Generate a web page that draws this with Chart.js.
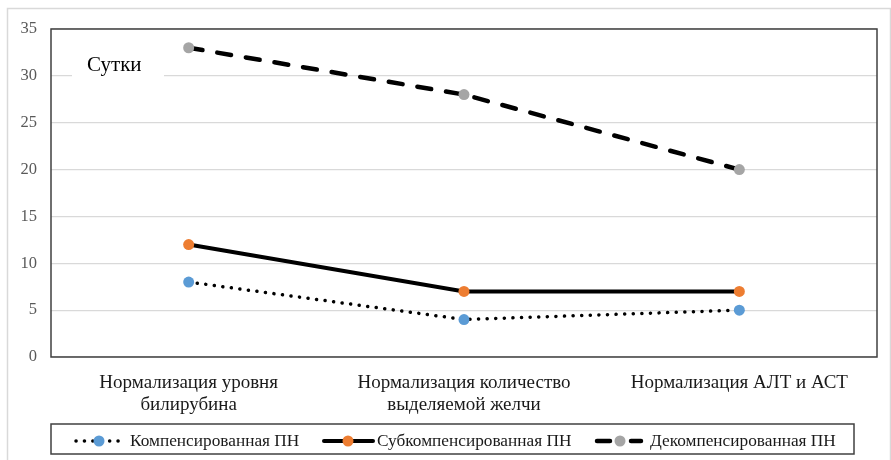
<!DOCTYPE html>
<html>
<head>
<meta charset="utf-8">
<script src="https://cdn.jsdelivr.net/npm/chart.js@4/dist/chart.umd.min.js"></script>
<style>
  html, body { margin: 0; padding: 0; background: #fff; }
  #wrap { width: 891px; height: 460px; }
</style>
</head>
<body>
<div id="wrap"><canvas id="grafico" width="891" height="460"></canvas></div>
<script>
const categorie = [
  ['Нормализация уровня', 'билирубина'],
  ['Нормализация количество', 'выделяемой желчи'],
  'Нормализация АЛТ и АСТ'
];
const compensata = [8, 4, 5];
const subcompensata = [12, 7, 7];
const decompensata = [33, 28, 20];
const nomiSerie = ['Компенсированная ПН', 'Субкомпенсированная ПН', 'Декомпенсированная ПН'];
const tickY = [0, 5, 10, 15, 20, 25, 30, 35];
const etichettaY = 'Сутки';

const serif = '"Liberation Serif", "Times New Roman", serif';

const ctx = document.getElementById('grafico').getContext('2d');

const data = {
  labels: categorie,
  datasets: [
    {
      label: nomiSerie[0],
      data: compensata,
      borderColor: '#000',
      borderWidth: 3.5,
      borderDash: [0.1, 8.5],
      borderCapStyle: 'round',
      pointBackgroundColor: '#5b9bd5',
      pointBorderWidth: 0,
      pointRadius: 5.5,
      legendDash: [0.1, 8.3], legendWidth: 3.5,
      tension: 0
    },
    {
      label: nomiSerie[1],
      data: subcompensata,
      borderColor: '#000',
      borderWidth: 4,
      pointBackgroundColor: '#ed7d31',
      pointBorderWidth: 0,
      pointRadius: 5.5,
      legendDash: [], legendWidth: 4,
      tension: 0
    },
    {
      label: nomiSerie[2],
      data: decompensata,
      borderColor: '#000',
      borderWidth: 4.5,
      borderDash: [14, 15],
      borderCapStyle: 'round',
      pointBackgroundColor: '#a5a5a5',
      pointBorderWidth: 0,
      pointRadius: 5.5,
      legendDash: [13, 21], legendWidth: 4.5,
      tension: 0
    }
  ]
};

// bordo esterno, riquadro area, etichetta "Сутки"
const sfondo = {
  id: 'sfondo',
  beforeDraw(chart) {
    const c = chart.ctx;
    c.save();
    c.strokeStyle = '#d9d9d9';
    c.lineWidth = 1.5;
    c.strokeRect(7.5, 8.5, 883, 460);
    c.restore();
  },
  beforeDatasetsDraw(chart) {
    const c = chart.ctx;
    const a = chart.chartArea;
    c.save();
    c.strokeStyle = '#404040';
    c.lineWidth = 1.5;
    c.strokeRect(a.left, a.top, a.right - a.left, a.bottom - a.top);
    c.fillStyle = '#fff';
    c.fillRect(72, 48, 92, 32);
    c.fillStyle = '#000';
    c.font = '21px ' + serif;
    c.textBaseline = 'middle';
    c.fillText(etichettaY, 87, 65);
    c.restore();
  }
};

// legenda in basso con riquadro
const legenda = {
  id: 'legenda',
  afterDraw(chart) {
    const c = chart.ctx;
    const y = 441;
    const voci = [
      { x0: 76, x1: 124, dot: 99, tx: 130 },
      { x0: 324, x1: 373, dot: 348, tx: 377 },
      { x0: 597, x1: 641, dot: 620, tx: 650 }
    ];
    c.save();
    c.strokeStyle = '#404040';
    c.lineWidth = 1.5;
    c.strokeRect(51, 424, 803, 30);
    chart.data.datasets.forEach((ds, i) => {
      const v = voci[i];
      c.strokeStyle = ds.borderColor;
      c.lineWidth = ds.legendWidth;
      c.lineCap = 'round';
      c.setLineDash(ds.legendDash);
      c.beginPath();
      c.moveTo(v.x0, y);
      c.lineTo(v.x1, y);
      c.stroke();
      c.setLineDash([]);
      c.fillStyle = ds.pointBackgroundColor;
      c.beginPath();
      c.arc(v.dot, y, 5.5, 0, Math.PI * 2);
      c.fill();
      c.fillStyle = '#1a1a1a';
      c.font = '17.3px ' + serif;
      c.textBaseline = 'middle';
      c.fillText(ds.label, v.tx, y);
    });
    c.restore();
  }
};

const options = {
  responsive: false,
  animation: false,
  layout: {
    padding: { left: 7, right: 14, top: 29, bottom: 43 }
  },
  plugins: {
    legend: { display: false },
    tooltip: { enabled: false }
  },
  scales: {
    y: {
      min: 0,
      max: 35,
      afterFit: s => { s.width = 44; },
      afterBuildTicks: s => { s.ticks = tickY.map(v => ({ value: v })); },
      border: { display: false },
      grid: {
        color: '#d9d9d9',
        lineWidth: 1.2,
        drawTicks: false
      },
      ticks: {
        padding: 14,
        color: '#595959',
        font: { family: serif, size: 16.5 }
      }
    },
    x: {
      offset: true,
      afterFit: s => { s.height = 60; },
      border: { display: false },
      grid: { display: false, drawTicks: false },
      ticks: {
        padding: 15,
        color: '#1a1a1a',
        maxRotation: 0,
        font: { family: serif, size: 19, lineHeight: 1.15 }
      }
    }
  }
};

new Chart(ctx, {
  type: 'line',
  data: data,
  options: options,
  plugins: [sfondo, legenda]
});
</script>
</body>
</html>
